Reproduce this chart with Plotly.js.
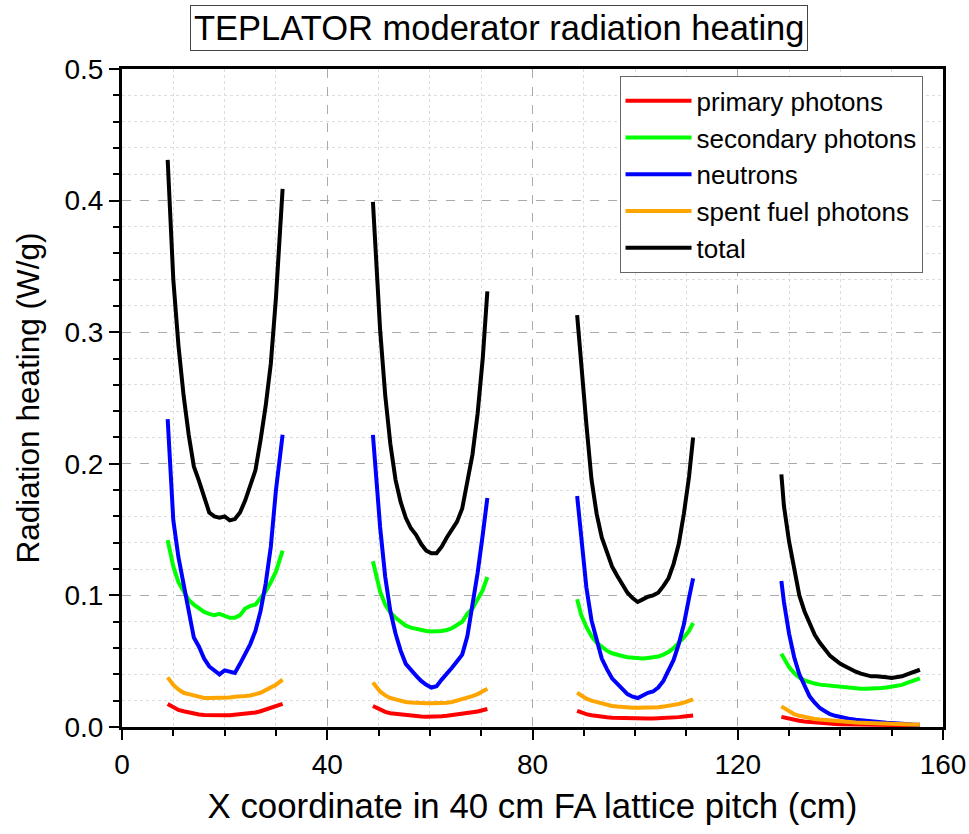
<!DOCTYPE html>
<html>
<head>
<meta charset="utf-8">
<script src="https://cdn.plot.ly/plotly-3.0.1.min.js"></script>
<style>html,body{margin:0;padding:0;background:#fff;}#chart{width:969px;height:834px;}</style>
</head>
<body>
<div id="chart"></div>
<script>
// x positions (cm) of each moderator segment
var xSeg1 = [8.9,10,11,12,13,14,15,16,17,18,19,20,21,22,23,24,25,26,27,28,29,30,31.3];
var xSeg2 = [48.9,50.3,51.3,52.3,53.3,54.3,55.3,56.3,57.3,58.3,59.3,60.3,61.3,62.3,63.3,64.3,65.3,66.3,67.3,68.3,69.3,70.3,71.2];
var xSeg3 = [88.7,89.5,90.5,91.5,92.5,93.5,94.5,95.5,96.5,97.5,98.5,99.5,100.5,101.5,102.5,103.5,104.5,105.5,106.5,107.5,108.5,109.5,110.5,111.3];
var xSeg4 = [128.5,129,130,131,132,133,134,135,136,137,138,139,140,141,142,143,144,145,146,147,148,149,150,151,152,153,154,155.5];

// primary photons (W/g)
var primary1 = [0.0175,0.015,0.013,0.012,0.011,0.010,0.0095,0.0092,0.009,0.009,0.009,0.009,0.009,0.0093,0.0096,0.010,0.0105,0.011,0.012,0.0133,0.0145,0.016,0.0175];
var primary2 = [0.016,0.013,0.0115,0.0105,0.010,0.0094,0.009,0.0086,0.0082,0.008,0.0078,0.0078,0.008,0.0082,0.0086,0.009,0.0096,0.010,0.0107,0.0112,0.0118,0.0127,0.0137];
var primary3 = [0.0122,0.011,0.0098,0.009,0.0083,0.0078,0.0074,0.0071,0.0069,0.0067,0.0065,0.0064,0.0064,0.0064,0.0064,0.0065,0.0066,0.0068,0.007,0.0072,0.0075,0.0079,0.0083,0.0087];
var primary4 = [0.0077,0.0072,0.0063,0.0055,0.0047,0.0041,0.0037,0.0033,0.003,0.0027,0.0025,0.0023,0.0021,0.002,0.0019,0.0018,0.0017,0.0016,0.0015,0.0015,0.0014,0.0014,0.0014,0.0013,0.0013,0.0013,0.0013,0.0012];

// secondary photons
var secondary1 = [0.142,0.122,0.110,0.103,0.0965,0.093,0.090,0.0875,0.086,0.085,0.086,0.0845,0.083,0.083,0.085,0.090,0.092,0.093,0.098,0.103,0.110,0.118,0.134];
var secondary2 = [0.126,0.103,0.093,0.087,0.083,0.080,0.077,0.0755,0.0745,0.0737,0.073,0.0725,0.0725,0.073,0.0737,0.075,0.0775,0.080,0.086,0.090,0.097,0.104,0.114];
var secondary3 = [0.097,0.085,0.076,0.069,0.064,0.061,0.058,0.056,0.0547,0.054,0.053,0.0525,0.052,0.052,0.0525,0.053,0.0535,0.055,0.057,0.060,0.0635,0.068,0.073,0.079];
var secondary4 = [0.0557,0.052,0.0455,0.041,0.0375,0.0355,0.034,0.033,0.0322,0.0318,0.031,0.0304,0.030,0.030,0.0295,0.029,0.029,0.029,0.029,0.0292,0.0296,0.030,0.0305,0.031,0.032,0.0335,0.035,0.037];

// neutrons
var neutrons1 = [0.234,0.157,0.129,0.108,0.085,0.068,0.061,0.052,0.046,0.043,0.040,0.043,0.042,0.041,0.048,0.055,0.063,0.073,0.088,0.109,0.137,0.180,0.222];
var neutrons2 = [0.222,0.152,0.114,0.088,0.071,0.058,0.048,0.043,0.039,0.035,0.032,0.030,0.031,0.036,0.040,0.045,0.050,0.055,0.069,0.091,0.117,0.146,0.174];
var neutrons3 = [0.1755,0.143,0.106,0.081,0.066,0.052,0.044,0.037,0.033,0.029,0.025,0.023,0.022,0.024,0.026,0.027,0.030,0.035,0.043,0.051,0.063,0.078,0.098,0.113];
var neutrons4 = [0.111,0.095,0.071,0.053,0.040,0.031,0.0233,0.0185,0.0144,0.012,0.0097,0.0085,0.0075,0.0067,0.006,0.0055,0.005,0.0046,0.0043,0.004,0.0035,0.0032,0.003,0.0026,0.0023,0.0021,0.0019,0.0017];

// spent fuel photons
var spent1 = [0.0377,0.032,0.0285,0.026,0.025,0.024,0.023,0.022,0.022,0.022,0.022,0.0225,0.0225,0.023,0.023,0.0235,0.024,0.025,0.026,0.028,0.030,0.032,0.036];
var spent2 = [0.0338,0.027,0.024,0.022,0.021,0.0198,0.019,0.0186,0.0182,0.018,0.018,0.018,0.018,0.018,0.0185,0.019,0.020,0.021,0.022,0.0235,0.025,0.027,0.029];
var spent3 = [0.026,0.024,0.0215,0.020,0.019,0.018,0.0167,0.016,0.0155,0.015,0.0148,0.0147,0.0147,0.0147,0.0148,0.0148,0.015,0.0155,0.016,0.0167,0.0175,0.0185,0.0195,0.021];
var spent4 = [0.0157,0.0145,0.0125,0.0097,0.0085,0.0075,0.0067,0.0061,0.0057,0.0053,0.005,0.0046,0.0043,0.004,0.0037,0.0035,0.0033,0.0032,0.003,0.0029,0.0028,0.0027,0.0026,0.0025,0.0023,0.0021,0.002,0.0018];

// total
var total1 = [0.431,0.340,0.290,0.252,0.222,0.198,0.187,0.174,0.163,0.160,0.159,0.160,0.157,0.158,0.163,0.172,0.183,0.195,0.218,0.244,0.276,0.326,0.409];
var total2 = [0.399,0.302,0.252,0.215,0.188,0.171,0.159,0.151,0.146,0.139,0.134,0.132,0.132,0.137,0.144,0.150,0.156,0.166,0.185,0.207,0.238,0.280,0.331];
var total3 = [0.313,0.272,0.230,0.188,0.162,0.144,0.132,0.122,0.115,0.108,0.102,0.098,0.095,0.097,0.099,0.100,0.102,0.107,0.113,0.124,0.139,0.162,0.190,0.220];
var total4 = [0.192,0.168,0.141,0.119,0.100,0.088,0.079,0.070,0.064,0.059,0.054,0.051,0.048,0.046,0.0438,0.042,0.0405,0.0395,0.0385,0.0385,0.0385,0.0378,0.0372,0.0378,0.0385,0.040,0.0415,0.0435];

var seriesNames = ["primary photons","secondary photons","neutrons","spent fuel photons","total"];
var seriesColors = ["#ff0000","#00ff00","#0000ff","#ffa500","#000000"];
var seriesData = [
  [primary1,primary2,primary3,primary4],
  [secondary1,secondary2,secondary3,secondary4],
  [neutrons1,neutrons2,neutrons3,neutrons4],
  [spent1,spent2,spent3,spent4],
  [total1,total2,total3,total4]
];
var xSegs = [xSeg1,xSeg2,xSeg3,xSeg4];

function joinSegs(segs){
  var out = [];
  segs.forEach(function(s,i){ if(i>0) out.push(null); out = out.concat(s); });
  return out;
}

var xAll = joinSegs(xSegs);
var traces = seriesNames.map(function(name,i){
  return {
    type:'scatter', mode:'lines', name:name,
    x:xAll, y:joinSegs(seriesData[i]),
    line:{color:seriesColors[i], width:4},
    connectgaps:false, hoverinfo:'skip'
  };
});

var FONT = 'Arial, "Liberation Sans", sans-serif';
var layout = {
  width:969, height:834,
  margin:{l:122, r:26, t:69, b:107},
  paper_bgcolor:'#fff', plot_bgcolor:'#fff',
  font:{family:FONT, color:'#000'},
  showlegend:true,
  legend:{
    x:0.606, y:0.989, xanchor:'left', yanchor:'top',
    bgcolor:'#fff', bordercolor:'#666', borderwidth:1,
    font:{family:FONT, size:26, color:'#000'},
    itemwidth:66, tracegroupgap:0
  },
  xaxis:{
    range:[0,160], dtick:40, tick0:0,
    showline:true, linecolor:'#000', linewidth:3, mirror:true,
    ticks:'outside', ticklen:10, tickwidth:2, tickcolor:'#000',
    tickfont:{family:FONT, size:28, color:'#000'},
    showgrid:true, gridcolor:'#aaaaaa', gridwidth:1, griddash:'dash',
    zeroline:false,
    minor:{dtick:10, ticks:'outside', ticklen:6, tickwidth:2, tickcolor:'#000', showgrid:true, gridcolor:'#dddddd', griddash:'dot', gridwidth:1},
    title:{text:'X coordinate in 40 cm FA lattice pitch (cm)', font:{family:FONT, size:34.8, color:'#000'}, standoff:16}
  },
  yaxis:{
    range:[0,0.5], dtick:0.1, tick0:0, tickformat:'.1f',
    showline:true, linecolor:'#000', linewidth:3, mirror:true,
    ticks:'outside', ticklen:10, tickwidth:2, tickcolor:'#000',
    tickfont:{family:FONT, size:28, color:'#000'},
    showgrid:true, gridcolor:'#aaaaaa', gridwidth:1, griddash:'dash',
    zeroline:false,
    minor:{dtick:0.02, ticks:'outside', ticklen:6, tickwidth:2, tickcolor:'#000', showgrid:true, gridcolor:'#dddddd', griddash:'dot', gridwidth:1},
    title:{text:'Radiation heating (W/g)', font:{family:FONT, size:31.5, color:'#000'}, standoff:16}
  },
  annotations:[{
    text:'TEPLATOR moderator radiation heating',
    xref:'paper', yref:'paper', x:0.459, y:1.0623, xanchor:'center', yanchor:'middle',
    showarrow:false, font:{family:FONT, size:34.5, color:'#000'},
    bordercolor:'#444', borderwidth:1, borderpad:3, bgcolor:'#fff'
  }]
};

Plotly.newPlot('chart', traces, layout, {staticPlot:true, displayModeBar:false});
</script>
</body>
</html>
